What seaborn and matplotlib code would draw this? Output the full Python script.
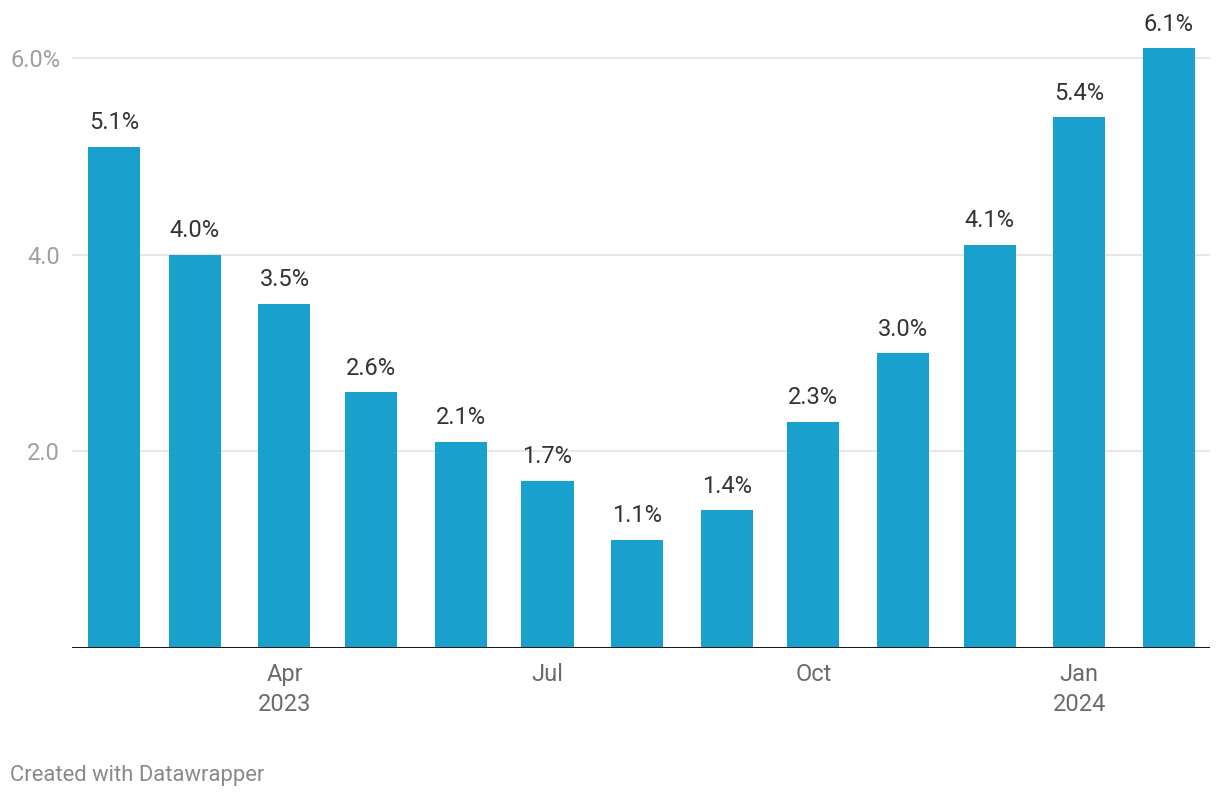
import matplotlib
matplotlib.use("Agg")
import matplotlib.pyplot as plt
import matplotlib.dates as mdates
import seaborn as sns
import pandas as pd

# ---- data -------------------------------------------------------------------
months = pd.date_range("2023-02-01", "2024-02-01", freq="MS")
values = [5.1, 4.0, 3.5, 2.6, 2.1, 1.7, 1.1, 1.4, 2.3, 3.0, 4.1, 5.4, 6.1]
tick_months = ["2023-04-01", "2023-07-01", "2023-10-01", "2024-01-01"]
tick_labels = ["Apr\n2023", "Jul", "Oct", "Jan\n2024"]
y_ticks = [2.0, 4.0, 6.0]
y_tick_labels = ["2.0", "4.0", "6.0%"]

BAR = "#18a1cd"

sns.set_theme(style="white")
plt.rcParams["font.family"] = ["Roboto", "DejaVu Sans"]

df = pd.DataFrame({"x": mdates.date2num(months), "value": values})

fig = plt.figure(figsize=(12.2, 8), dpi=100)
ax = fig.add_axes([72 / 1220, 1 - 648 / 800, (1210 - 72) / 1220, (648 - 9) / 800])

sns.barplot(data=df, x="x", y="value", native_scale=True, width=0.643,
            color=BAR, saturation=1, linewidth=0, ax=ax, zorder=3)

x0 = mdates.date2num(pd.Timestamp("2023-02-01"))
x1 = mdates.date2num(pd.Timestamp("2024-02-01"))
ax.set_xlim(x0 - 14.5, x1 + 14.2)
ax.set_ylim(0, 6.5)

# gridlines + baseline
for yv in y_ticks:
    ax.axhline(yv, color="#e3e3e3", lw=1.2, zorder=1)
ax.axhline(0, color="#1a1a1a", lw=2.2, zorder=4)

ax.set_yticks(y_ticks)
ax.set_yticklabels(y_tick_labels)
ax.tick_params(axis="y", length=0, pad=8.5, labelsize=17, labelcolor="#a0a0a0")

ax.set_xticks(mdates.date2num(pd.to_datetime(tick_months)))
ax.set_xticklabels(tick_labels, linespacing=1.35)
ax.tick_params(axis="x", length=0, pad=11, labelsize=17, labelcolor="#6b6b6b")

ax.set_xlabel("")
ax.set_ylabel("")
for s in ax.spines.values():
    s.set_visible(False)

# value labels
for xv, v in zip(df["x"], df["value"]):
    ax.annotate(f"{v:.1f}%", (xv, v), xytext=(0, 9), textcoords="offset points",
                ha="center", va="bottom", fontsize=17, color="#333333",
                annotation_clip=False)

fig.text(10 / 1220, 1 - 776 / 800, "Created with Datawrapper", ha="left",
         va="center", fontsize=15.8, color="#8a8a8a")

fig.savefig("out.png", dpi=100)
